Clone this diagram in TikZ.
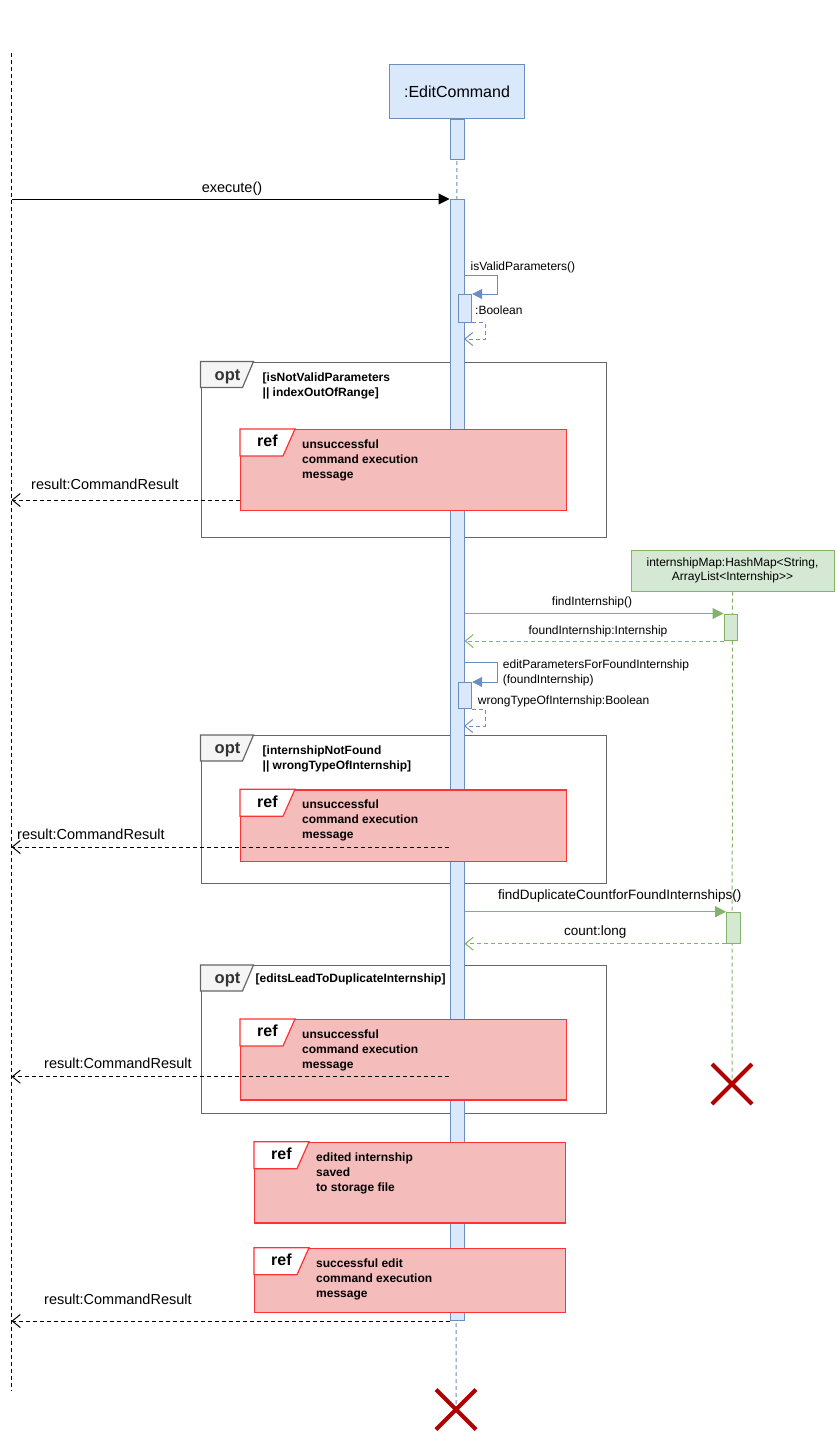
\documentclass[tikz,border=0pt]{standalone}
\usepackage{fontspec}
\setmainfont{Liberation Sans}
\usepackage{xcolor}
\usetikzlibrary{arrows.meta, positioning}
\definecolor{cmdfill}{HTML}{DAE8FC}
\definecolor{cmdline}{HTML}{6C8EBF}
\definecolor{mapfill}{HTML}{D5E8D4}
\definecolor{mapline}{HTML}{82B366}
\definecolor{reffill}{RGB}{245,188,188}
\definecolor{refline}{HTML}{FF3333}
\definecolor{optline}{HTML}{666666}
\definecolor{opttabfill}{HTML}{F5F5F5}
\definecolor{crossred}{HTML}{B20000}

\begin{document}
\begin{tikzpicture}[
                x=1pt, y=-1pt,
                line join=miter,
                cmdbox/.style={shape=rectangle, fill=cmdfill, draw=cmdline, line width=1pt, inner sep=0pt, minimum width=135pt, minimum height=54pt, font=\fontsize{16}{18}\selectfont},
                mapbox/.style={shape=rectangle, fill=mapfill, draw=mapline, line width=1pt, inner sep=0pt, minimum width=203pt, minimum height=41pt, align=center, font=\fontsize{12}{13.5}\selectfont},
                actbar/.style={shape=rectangle, fill=cmdfill, draw=cmdline, line width=1pt, inner sep=0pt, minimum width=14pt},
                mapbar/.style={shape=rectangle, fill=mapfill, draw=mapline, line width=1pt, inner sep=0pt, minimum width=13.4pt},
                lifeline/.style={line width=1pt, dash pattern=on 4pt off 3pt},
                call/.style={line width=1pt, -{Triangle[length=11pt, width=11pt]}},
                reply/.style={line width=1pt, dash pattern=on 4pt off 3pt, -{Straight Barb[length=8pt, width=13pt]}},
                optframe/.style={shape=rectangle, draw=optline, line width=1.2pt, inner sep=0pt, minimum width=405pt},
                opttab/.style={fill=opttabfill, draw=optline, line width=1.2pt},
                opttext/.style={inner sep=0pt, text=black!80, font=\fontsize{16.5}{18}\selectfont\bfseries},
                guard/.style={inner sep=0pt, align=left, font=\fontsize{12}{15}\selectfont\bfseries},
                refbox/.style={shape=rectangle, fill=reffill, draw=refline, line width=1.2pt, inner sep=0pt},
                reftab/.style={fill=white, draw=refline, line width=1.2pt},
                reflabel/.style={inner sep=0pt, font=\fontsize{16}{18}\selectfont\bfseries},
                reftext/.style={inner sep=0pt, align=left, font=\fontsize{12}{15}\selectfont\bfseries},
                msgbig/.style={inner sep=0pt, font=\fontsize{14.5}{16}\selectfont},
                msgmid/.style={inner sep=0pt, font=\fontsize{13.5}{15}\selectfont},
                msgsmall/.style={inner sep=0pt, align=left, font=\fontsize{12}{15}\selectfont},
                cross/.style={draw=crossred, line width=4pt}
                ]
                \useasboundingbox (0,0) rectangle (838,1443);

                %% Lifelines
                \coordinate (actortop) at (11.5,52.5);
                \coordinate (actorbot) at (11.5,1391);
                \node[cmdbox] (cmd) at (457,91.7) {:EditCommand};
                \node[mapbox] (map) at (732.5,570.5) {internshipMap:HashMap<String,\\ArrayList<Internship>{}>};
                \coordinate (cmdx) at (456,1409.5);
                \coordinate (mapx) at (732,1084);

                \draw[lifeline] (actortop) -- (actorbot);
                \draw[lifeline, cmdline] (cmd.south) -- (cmdx);
                \draw[lifeline, mapline] (map.south) -- (mapx);

                %% Opt frames
                \foreach \n/\yy/\hh in {1/361.5/175pt, 2/735/148pt, 3/965/147.5pt} {
                    \node[optframe, minimum height=\hh, anchor=north west] (opt\n) at (200.5,\yy) {};
                    \draw[opttab] (opt\n.north west) -- ++(53,0) -- ++(-11,26) -- ++(-42,0) -- cycle;
                    \node[opttext, anchor=base west] (optlbl\n) at ([xshift=14pt, yshift=-18.5pt]opt\n.north west) {opt};
                }
                \node[guard, anchor=north west] (guard1) at (262.5,372.2) {[isNotValidParameters\\|| indexOutOfRange]};
                \node[guard, anchor=north west] (guard2) at (262.5,745.2) {[internshipNotFound\\|| wrongTypeOfInternship]};
                \node[guard, anchor=base west] (guard3) at (255.5,982.7) {[editsLeadToDuplicateInternship]};

                %% Activation bars
                \node[actbar, minimum height=40pt, anchor=north] (act1) at (cmd.south) {};
                \node[actbar, minimum height=1121pt, anchor=north] (act2) at (457,199) {};
                \node[actbar, minimum width=13.4pt, minimum height=27.5pt, anchor=north] (nest1) at (465,294) {};
                \node[actbar, minimum width=13.4pt, minimum height=26pt, anchor=north] (nest2) at (465,682) {};
                \node[mapbar, minimum height=26.5pt, anchor=north] (mapbar1) at (730.7,613.5) {};
                \node[mapbar, minimum height=31pt, anchor=north] (mapbar2) at (733.3,911.7) {};

                %% Ref boxes
                \foreach \n/\xx/\yy/\ww/\hh/\txt in {
                        1/240/429/325.5pt/80.7pt/{unsuccessful\\command execution\\message},
                        2/240/789.3/325.5pt/71.4pt/{unsuccessful\\command execution\\message},
                        3/240/1019/325.5pt/80.3pt/{unsuccessful\\command execution\\message},
                        4/254/1141.7/311pt/80.6pt/{edited internship\\saved\\to storage file},
                        5/254/1247.7/311pt/64pt/{successful edit\\command execution\\message}} {
                    \node[refbox, minimum width=\ww, minimum height=\hh, anchor=north west] (ref\n) at (\xx,\yy) {};
                    \draw[reftab] (ref\n.north west) -- ++(55,0) -- ++(-12,27) -- ++(-43,0) -- cycle;
                    \node[reflabel, anchor=base west] (reflbl\n) at ([xshift=17pt, yshift=-17.7pt]ref\n.north west) {ref};
                    \node[reftext, below right=10.5pt and 62pt of ref\n.north west] (reftxt\n) {\txt};
                }

                %% Messages
                \draw[call] (actortop |- act2.north) -- (act2.north west);
                \node[msgbig, anchor=base] (lblexec) at (232,192.5) {execute()};

                % isValidParameters
                \coordinate (selfa) at (464,275);
                \coordinate (selfb) at (464,339);
                \draw[call, cmdline, -{Triangle[length=10pt, width=10pt]}] (selfa) -- ++(33.5,0) |- (nest1.north east);
                \draw[reply, cmdline] (nest1.south east) -- ++(13,0) |- (selfb);
                \node[msgsmall, anchor=base west] (lblvalid) at (470.5,270.7) {isValidParameters()};
                \node[msgsmall, anchor=base west] (lblbool) at (475,314) {:Boolean};

                % findInternship
                \draw[call, mapline] (act2.east |- mapbar1.north) -- (mapbar1.north west);
                \draw[reply, mapline] (mapbar1.south west) -- (act2.east |- mapbar1.south);
                \node[msgsmall, anchor=base] (lblfind) at (592,605) {findInternship()};
                \node[msgsmall, anchor=base] (lblfound) at (598,634) {foundInternship:Internship};

                % editParametersForFoundInternship
                \coordinate (selfc) at (464,662.3);
                \coordinate (selfd) at (464,726);
                \draw[call, cmdline, -{Triangle[length=10pt, width=10pt]}] (selfc) -- ++(33.5,0) |- (nest2.north east);
                \draw[reply, cmdline] (nest2.south east) -- ++(13,0) |- (selfd);
                \node[msgsmall, anchor=north west] (lbledit) at (502.7,659.3) {editParametersForFoundInternship\\(foundInternship)};
                \node[msgsmall, anchor=base west] (lblwrong) at (477.7,704) {wrongTypeOfInternship:Boolean};

                % findDuplicateCountforFoundInternships
                \draw[call, mapline] (act2.east |- mapbar2.north) -- (mapbar2.north west);
                \draw[reply, mapline] (mapbar2.south west) -- (act2.east |- mapbar2.south);
                \node[msgmid, anchor=base west] (lbldup) at (498,899.3) {findDuplicateCountforFoundInternships()};
                \node[msgmid, anchor=base west] (lblcount) at (564,935) {count:long};

                % results
                \coordinate (res1) at (240,500);
                \coordinate (res2) at (449,847);
                \coordinate (res3) at (449,1076.7);
                \draw[reply] (res1) -- (actortop |- res1);
                \draw[reply] (res2) -- (actortop |- res2);
                \draw[reply] (res3) -- (actortop |- res3);
                \draw[reply] (act2.south west) -- (actortop |- act2.south);
                \node[msgbig, anchor=base west] (lblres1) at (31,489) {result:CommandResult};
                \node[msgbig, anchor=base west] (lblres2) at (17,839) {result:CommandResult};
                \node[msgbig, anchor=base west] (lblres3) at (44,1068) {result:CommandResult};
                \node[msgbig, anchor=base west] (lblres4) at (44,1304) {result:CommandResult};

                %% Destruction
                \foreach \c in {mapx, cmdx} {
                    \draw[cross] ([shift={(-20,-20)}]\c) -- ([shift={(20,20)}]\c);
                    \draw[cross] ([shift={(-20,20)}]\c) -- ([shift={(20,-20)}]\c);
                }
\end{tikzpicture}
\end{document}
